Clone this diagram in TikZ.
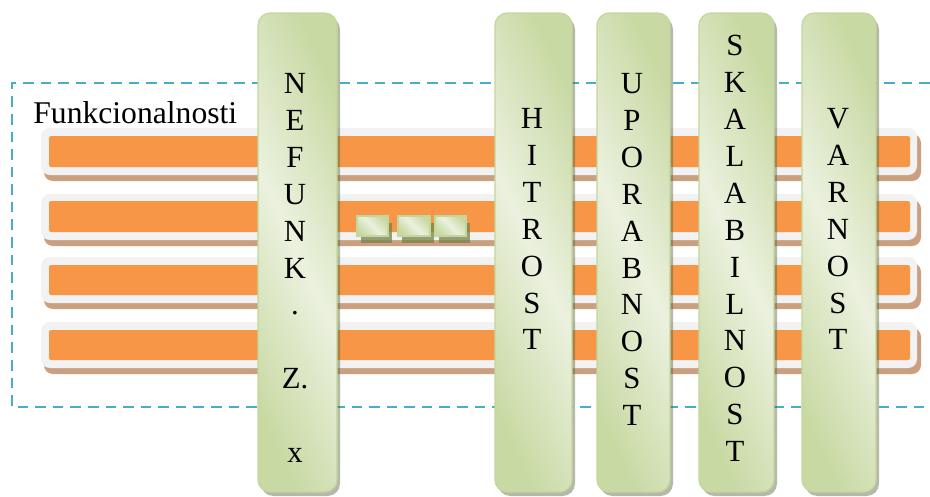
\documentclass[tikz,border=0pt]{standalone}
\usepackage{fontspec}
\setmainfont{Liberation Serif}
\usetikzlibrary{positioning}
\definecolor{barorange}{HTML}{F79646}
\definecolor{barframe}{HTML}{F2F2F2}
\definecolor{barbrown}{HTML}{CBA081}
\definecolor{pillarlight}{HTML}{EBF1DE}
\definecolor{pillardark}{HTML}{C8D9A3}
\definecolor{pillarline}{HTML}{C3D69B}
\definecolor{pillarshade}{HTML}{5A6440}
\definecolor{chipshade}{HTML}{76834A}
\definecolor{framedash}{HTML}{4BACC6}

\begin{document}
\begin{tikzpicture}[x=0.2mm, y=-0.2mm,
    barshadow/.style={fill=barbrown, rounded corners=5pt},
    barbase/.style={fill=barframe, rounded corners=5pt},
    barstripe/.style={fill=barorange, rounded corners=1.2pt},
    pillar/.style={draw=pillarline, line width=0.7pt, rounded corners=7pt,
      left color=pillardark, right color=pillardark, middle color=pillarlight,
      shading angle=115},
    pillarshadow/.style={fill=pillarshade, fill opacity=0.45, rounded corners=7pt},
    chip/.style={draw=pillarline, line width=0.8pt,
      left color=pillardark, right color=pillardark, middle color=pillarlight,
      shading angle=135},
    chipshadow/.style={fill=chipshade, fill opacity=0.75},
    letters/.style={font=\fontsize{17.5}{21}\selectfont, align=center,
      inner sep=0pt, anchor=north}]
    \useasboundingbox (0,0) rectangle (930,497);

    % Dashed frame, open on the right
    \draw[framedash, line width=1.4pt, dash pattern=on 6pt off 4pt]
      (930,83) -- (12,83) -- (12,407) -- (930,407);
    \node[font=\fontsize{18}{21}\selectfont, inner sep=0pt, anchor=base west]
      (title) at (33,123) {Funkcionalnosti};

    % Bar 1: y = 128 to 175
    \fill[barshadow] (44,134) rectangle (921,181);
    \fill[barbase] (41,128) rectangle (917,175);
    \fill[barstripe] (49,136) rectangle (910,167);
    % Bar 2: y = 194 to 240
    \fill[barshadow] (44,200) rectangle (921,246);
    \fill[barbase] (41,194) rectangle (917,240);
    \fill[barstripe] (49,201) rectangle (910,232);
    % Bar 3: y = 257 to 303
    \fill[barshadow] (44,263) rectangle (921,309);
    \fill[barbase] (41,257) rectangle (917,303);
    \fill[barstripe] (49,265) rectangle (910,295);
    % Bar 4: y = 322 to 368
    \fill[barshadow] (44,328) rectangle (921,374);
    \fill[barbase] (41,322) rectangle (917,368);
    \fill[barstripe] (49,330) rectangle (910,360);

    % Three small blocks on bar 2
    \fill[chipshadow] (361,223) rectangle (392,243);
    \fill[chipshadow] (402,223) rectangle (434,243);
    \fill[chipshadow] (439,223) rectangle (470,243);
    \draw[chip] (357,216) rectangle (388,236);
    \draw[chip] (398,216) rectangle (430,236);
    \draw[chip] (435,216) rectangle (466,236);

    % Pillar 1: x = 258 to 337
    \fill[pillarshadow] (261,17) rectangle (340,496);
    \draw[pillar] (258,13) rectangle (337,492);
    \node[letters] (nefunk) at (295,73)
      {N\\E\\F\\U\\N\\K\\.\\\mbox{}\\Z.\\\mbox{}\\x};
    % Pillar 2: x = 495 to 572
    \fill[pillarshadow] (498,17) rectangle (575,496);
    \draw[pillar] (495,13) rectangle (572,492);
    \node[letters] (hitrost) at (532,108) {H\\I\\T\\R\\O\\S\\T};
    % Pillar 3: x = 597 to 670
    \fill[pillarshadow] (600,17) rectangle (673,496);
    \draw[pillar] (597,13) rectangle (670,492);
    \node[letters] (uporabnost) at (632,73) {U\\P\\O\\R\\A\\B\\N\\O\\S\\T};
    % Pillar 4: x = 699 to 774
    \fill[pillarshadow] (702,17) rectangle (777,496);
    \draw[pillar] (699,13) rectangle (774,492);
    \node[letters] (skalabilnost) at (735,35) {S\\K\\A\\L\\A\\B\\I\\L\\N\\O\\S\\T};
    % Pillar 5: x = 802 to 876
    \fill[pillarshadow] (805,17) rectangle (879,496);
    \draw[pillar] (802,13) rectangle (876,492);
    \node[letters] (varnost) at (838,108) {V\\A\\R\\N\\O\\S\\T};
\end{tikzpicture}
\end{document}
